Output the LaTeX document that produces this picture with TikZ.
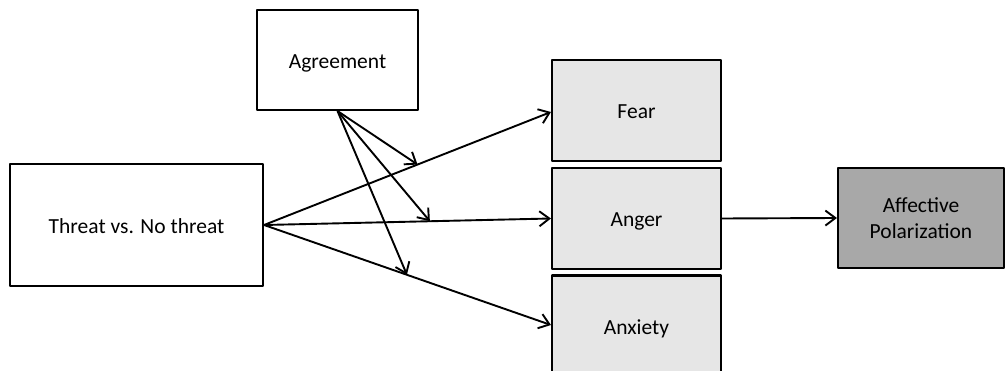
\documentclass[tikz,border=0pt]{standalone}
\usepackage{fontspec}
\setmainfont{Carlito}
\usetikzlibrary{arrows.meta, positioning}
\definecolor{emobox}{HTML}{E6E6E6}
\definecolor{outbox}{HTML}{A8A8A8}
\tikzset{>={Straight Barb[length=10pt,width=15pt,line width=1.9pt]}}
\tikzset{box/.style={draw, line width=2.1pt, align=center, inner sep=0pt,
    font=\fontsize{21.5}{26}\selectfont}}
\tikzset{oneline/.style={text height=17pt, text depth=0pt}}
\tikzset{emo/.style={box, oneline, fill=emobox, minimum width=169pt, minimum height=101pt}}
\tikzset{link/.style={->, line width=1.9pt}}

\begin{document}
\begin{tikzpicture}[x=1pt, y=-1pt, line join = round]
\useasboundingbox (0,0) rectangle (1005,371);

\node[box, oneline, minimum width=161pt, minimum height=100pt] (agree) at (337.5,60) {Agreement};
\node[box, oneline, minimum width=253pt, minimum height=122pt] (threat) at (136.5,225) {Threat vs. No threat};

\node[emo] (fear) at (636.5,110.5) {Fear};
\node[emo] (anger) at (636.5,218.5) {Anger};
\node[emo] (anxiety) at (636.5,326) {Anxiety};

\node[box, fill=outbox, minimum width=166pt, minimum height=100pt] (polar) at (921,218) {Affective\\Polarization};

\draw[link] (threat.east) -- (fear.west |- 0,112) coordinate[pos=0.535] (mfear);
\draw[link] (threat.east) -- (anger.west) coordinate[pos=0.578] (manger);
\draw[link] (threat.east) -- (anxiety.west |- 0,325) coordinate[pos=0.498] (manx);
\draw[link] (anger.east) -- (polar.west);

\draw[link] (agree.south) -- (mfear);
\draw[link] (agree.south) -- (manger);
\draw[link] (agree.south) -- (manx);

\end{tikzpicture}
\end{document}
